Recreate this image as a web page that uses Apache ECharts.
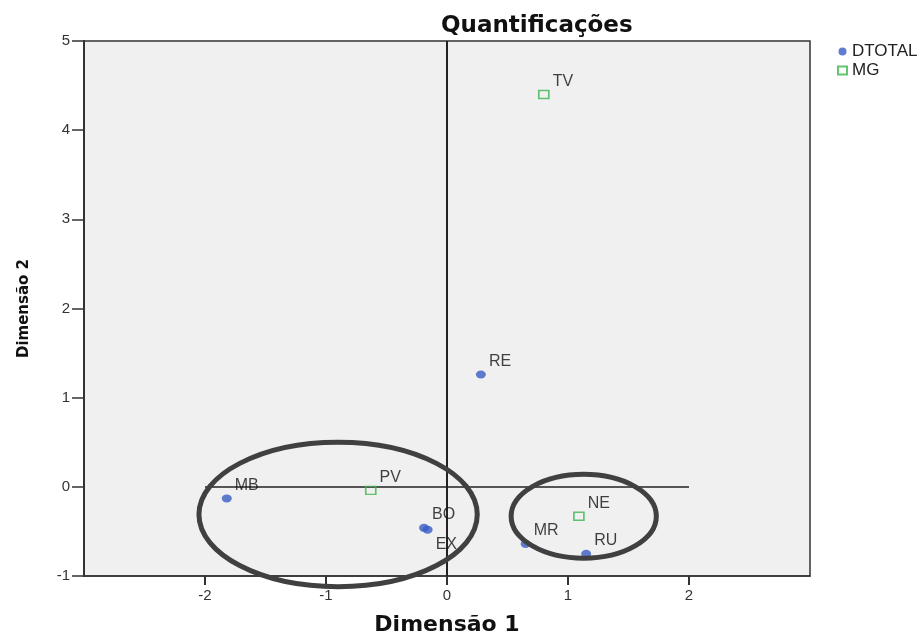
<!DOCTYPE html>
<html><head><meta charset="utf-8">
<script src="https://cdn.jsdelivr.net/npm/echarts@6/dist/echarts.min.js"></script>
<style>html,body{margin:0;padding:0;background:#fff}#c{width:924px;height:633px}</style>
</head><body><div id="c"></div>
<script>
// Data
const dtotalLabels = ['MB', 'BO', 'EX', 'RE', 'MR', 'RU'];
const dtotalX = [-1.82, -0.19, -0.16, 0.28, 0.65, 1.15];
const dtotalY = [-0.13, -0.46, -0.48, 1.26, -0.64, -0.75];
const mgLabels = ['TV', 'PV', 'NE'];
const mgX = [0.80, -0.63, 1.09];
const mgY = [4.40, -0.04, -0.33];
const xTicks = [-2, -1, 0, 1, 2];
const yTicks = [-1, 0, 1, 2, 3, 4, 5];
// annotation ellipses in data units: [cx, cy, rx, ry]
const ellipses = [[-0.90, -0.31, 1.15, 0.81], [1.13, -0.33, 0.60, 0.47]];

const sans = 'Liberation Sans, Arial, sans-serif';
const wide = 'DejaVu Sans, sans-serif';
const labelStyle = { show: true, formatter: '{b}', position: 'right', offset: [-2, -13], color: '#111', fontSize: 16, fontFamily: sans };

const chart = echarts.init(document.getElementById('c'), null, { renderer: 'canvas' });
const dtData = dtotalLabels.map((n, i) => {
  const d = { name: n, value: [dtotalX[i], dtotalY[i]] };
  if (n === 'EX') d.label = { offset: [-2, 15] };
  return d;
});
const mgData = mgLabels.map((n, i) => ({ name: n, value: [mgX[i], mgY[i]] }));

chart.setOption({
  animation: false,
  backgroundColor: '#fff',
  title: { text: 'Quantificações', left: 436, top: 10, textStyle: { fontFamily: wide, fontWeight: 'bold', fontSize: 23, color: '#111' } },
  legend: {
    orient: 'vertical', left: 832, top: 38, itemGap: 2, itemWidth: 9, itemHeight: 8,
    textStyle: { fontFamily: sans, fontSize: 17, color: '#222' },
    data: [{ name: 'DTOTAL', icon: 'circle' }, { name: 'MG', icon: 'rect' }]
  },
  grid: { left: 84, right: 114, top: 41, bottom: 57, outerBoundsMode: 'none', containLabel: false, show: true, backgroundColor: '#f0f0f0', borderColor: '#333', borderWidth: 1.5 },
  xAxis: {
    type: 'value', min: -3, max: 3, interval: 1,
    name: 'Dimensão 1', nameLocation: 'middle', nameGap: 38,
    nameTextStyle: { fontFamily: wide, fontWeight: 'bold', fontSize: 22, color: '#111' },
    axisLine: { show: true, onZero: false, lineStyle: { color: '#333', width: 1.5 } },
    axisTick: { show: true, length: 9, customValues: xTicks, lineStyle: { color: '#333', width: 2 } },
    axisLabel: { customValues: xTicks, fontFamily: sans, fontSize: 15, color: '#333', margin: 12 },
    splitLine: { show: false }
  },
  yAxis: {
    type: 'value', min: yTicks[0], max: yTicks[yTicks.length - 1], interval: 1,
    name: 'Dimensão 2', nameLocation: 'middle', nameGap: 52, nameRotate: 90,
    nameTextStyle: { fontFamily: wide, fontWeight: 'bold', fontSize: 15, color: '#111' },
    axisLine: { show: true, onZero: false, lineStyle: { color: '#333', width: 2 } },
    axisTick: { show: true, length: 12, lineStyle: { color: '#333', width: 1.5 } },
    axisLabel: { fontFamily: sans, fontSize: 15, color: '#333', margin: 14 },
    splitLine: { show: false }
  },
  series: [
    {
      name: 'DTOTAL', type: 'scatter', symbol: 'circle', symbolSize: [10, 8],
      itemStyle: { color: '#3a5cc4' }, label: labelStyle, data: dtData, z: 5,
      markLine: {
        silent: true, symbol: 'none', label: { show: false },
        lineStyle: { color: '#222', width: 1.5, type: 'solid' },
        data: [
          { xAxis: 0, lineStyle: { width: 2 } },
          [{ coord: [xTicks[0], 0] }, { coord: [xTicks[xTicks.length - 1], 0] }]
        ]
      }
    },
    {
      name: 'MG', type: 'scatter', symbol: 'rect', symbolSize: [10, 8],
      itemStyle: { color: 'rgba(0,0,0,0)', borderColor: '#3cb44a', borderWidth: 1.5 },
      label: labelStyle, data: mgData, z: 5
    }
  ]
});

const g = ellipses.map(e => {
  const c = chart.convertToPixel({ gridIndex: 0 }, [e[0], e[1]]);
  const p = chart.convertToPixel({ gridIndex: 0 }, [e[0] + e[2], e[1] + e[3]]);
  return {
    type: 'ellipse', z: 100,
    shape: { cx: c[0], cy: c[1], rx: Math.abs(p[0] - c[0]), ry: Math.abs(c[1] - p[1]) },
    style: { fill: null, stroke: '#404040', lineWidth: 5 }
  };
});
chart.setOption({ graphic: g });
</script>
</body></html>
